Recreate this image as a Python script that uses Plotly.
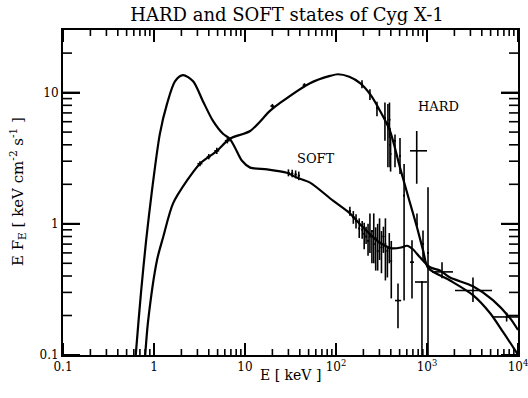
import numpy as np
import plotly.graph_objects as go

# ---- model curves (E in keV, E*F_E in keV cm^-2 s^-1) ----
soft_model_E = [0.62, 0.63, 0.72, 0.82, 0.95, 1.16, 1.39, 1.70, 2.08, 2.69, 3.45, 4.45,
                5.73, 6.8, 7.77, 9.27, 11.4, 17.5, 28.8, 37.0, 51.8, 92.7, 142, 198,
                300, 412, 520, 602, 700, 837, 1080, 1390, 1790, 3200, 5300, 8170, 10000]
soft_model_F = [0.085, 0.1, 0.3, 0.75, 1.79, 4.85, 8.2, 12.2, 13.6, 12.2, 8.6, 6.08,
                4.85, 4.45, 3.8, 3.02, 2.68, 2.6, 2.45, 2.25, 2.06, 1.50, 1.20, 0.94,
                0.72, 0.65, 0.66, 0.68, 0.64, 0.555, 0.466, 0.44, 0.39, 0.334, 0.262, 0.191, 0.155]

hard_model_E = [0.79, 0.80, 0.86, 1.08, 1.26, 1.62, 2.3, 3.2, 4.92, 6.8, 11.4, 18.8,
                24.3, 51.8, 86, 105, 140, 184, 240, 305, 392, 505, 640, 776, 904, 1030,
                1790, 3200, 4920, 6840, 9270, 10000]
hard_model_F = [0.09, 0.1, 0.18, 0.53, 0.79, 1.43, 2.13, 2.87, 3.6, 4.45, 5.1, 7.25,
                8.34, 11.8, 13.4, 13.8, 13.2, 11.8, 9.6, 7.25, 5.1, 2.68, 1.5, 0.94, 0.63, 0.46,
                0.37, 0.286, 0.209, 0.15, 0.109, 0.1]

# ---- measured spectra: centre, lower and upper bounds ----
soft_E    = [30, 33, 36, 39, 142, 155, 166, 180, 194, 204, 214, 225, 236, 248, 260, 273,
             287, 301, 316, 332, 349, 367, 385, 405, 480, 684, 880, 1462, 3200, 7500]
soft_Elo  = [29, 32, 35, 38, 138, 151, 162, 176, 190, 200, 210, 220, 231, 243, 255, 268,
             281, 295, 310, 326, 343, 360, 378, 398, 445, 650, 738, 1135, 2030, 5180]
soft_Ehi  = [31, 34, 37, 40, 146, 159, 170, 184, 198, 208, 218, 230, 241, 253, 265, 278,
             293, 307, 322, 338, 355, 374, 392, 412, 520, 720, 1000, 1930, 5180, 10000]
soft_F    = [2.45, 2.42, 2.38, 2.33, 1.25, 1.12, 1.05, 0.92, 0.90, 0.84, 0.80, 0.74, 0.80,
             0.88, 0.70, 0.78, 0.62, 0.72, 0.66, 0.80, 0.70, 0.62, 0.65, 0.52, 0.26, 0.51,
             0.36, 0.43, 0.31, 0.195]
soft_Flo  = [2.30, 2.26, 2.22, 2.15, 1.15, 1.00, 0.92, 0.78, 0.77, 0.64, 0.70, 0.57, 0.60,
             0.50, 0.50, 0.44, 0.44, 0.53, 0.42, 0.60, 0.37, 0.39, 0.50, 0.27, 0.16, 0.27,
             0.01, 0.385, 0.253, 0.18]
soft_Fhi  = [2.60, 2.58, 2.55, 2.50, 1.35, 1.25, 1.18, 1.10, 1.05, 1.02, 0.95, 1.00, 1.20,
             0.89, 1.20, 0.94, 1.00, 1.10, 0.88, 0.95, 1.10, 0.66, 0.85, 0.74, 0.35, 0.75,
             0.36, 0.51, 0.39, 0.21]

hard_E    = [3.2, 4.0, 4.9, 6.4, 20, 45, 193, 236, 282, 345, 372, 387, 392, 398, 445, 505,
             560, 776, 771, 904, 1026]
hard_Elo  = [3.0, 3.8, 4.6, 6.0, 19, 43, 188, 230, 275, 337, 364, 380, 386, 392, 435, 494,
             548, 760, 650, 880, 1000]
hard_Ehi  = [3.4, 4.2, 5.2, 6.8, 21, 47, 198, 242, 289, 353, 380, 394, 398, 404, 455, 516,
             572, 792, 1000, 928, 1052]
hard_F    = [2.87, 3.25, 3.6, 4.3, 7.9, 11.4, 11.6, 9.7, 7.6, 6.4, 5.8, 6.2, 4.0, 3.4, 4.3,
             3.3, 1.64, 1.0, 3.6, 0.70, 0.60]
hard_Flo  = [2.75, 3.10, 3.4, 4.1, 7.6, 11.0, 10.8, 8.8, 6.6, 4.3, 2.7, 4.5, 2.7, 2.5, 2.7,
             2.4, 0.26, 0.94, 2.02, 0.53, 0.01]
hard_Fhi  = [3.00, 3.40, 3.8, 4.5, 8.2, 11.8, 12.4, 10.6, 8.5, 8.4, 8.2, 8.4, 5.4, 4.5, 4.8,
             4.5, 2.85, 1.2, 5.1, 0.89, 1.9]

x_tickvals = [0.1, 1, 10, 100, 1000, 10000]
x_ticktext = ["0.1", "1", "10", "10<sup>2</sup>", "10<sup>3</sup>", "10<sup>4</sup>"]
y_tickvals = [0.1, 1, 10]
y_ticktext = ["0.1", "1", "10"]

FONT = "DejaVu Serif"
INK = "black"

X_RANGE = [-1.0, 4.0]
Y_RANGE = [-1.0, float(np.log10(30))]
MARGIN = dict(l=63, r=10, t=30, b=43)
W, H = 528, 398
PLOT_W = W - MARGIN["l"] - MARGIN["r"]
PLOT_H = H - MARGIN["t"] - MARGIN["b"]

X_MAJOR_LEN, X_MINOR_LEN = 12, 6
Y_MAJOR_LEN, Y_MINOR_LEN = 17, 9


def err_trace(E, Elo, Ehi, F, Flo, Fhi):
    E = np.array(E, float); F = np.array(F, float)
    return go.Scatter(
        x=E, y=F, mode="markers",
        marker=dict(size=2, color=INK),
        error_x=dict(type="data", symmetric=False,
                     array=np.array(Ehi) - E, arrayminus=E - np.array(Elo),
                     color=INK, thickness=1.6, width=0),
        error_y=dict(type="data", symmetric=False,
                     array=np.array(Fhi) - F, arrayminus=F - np.array(Flo),
                     color=INK, thickness=1.6, width=0),
        showlegend=False, hoverinfo="skip",
    )


def log_tick_exponents(lo, hi):
    """log10 positions of decade (major) and 2..9 (minor) ticks inside [lo, hi]."""
    major, minor = [], []
    for e in range(int(np.floor(lo)), int(np.ceil(hi)) + 1):
        if lo - 1e-9 <= e <= hi + 1e-9:
            major.append(float(e))
        for m in range(2, 10):
            v = e + float(np.log10(m))
            if lo < v < hi:
                minor.append(v)
    return major, minor


def tick_trace(along_x, exps, length_px, width):
    """Inward tick marks on both opposite sides of the frame, as one line trace."""
    xs, ys = [], []
    if along_x:
        d = length_px / PLOT_H * (Y_RANGE[1] - Y_RANGE[0])
        for v in exps:
            for a, b in ((Y_RANGE[0], Y_RANGE[0] + d), (Y_RANGE[1], Y_RANGE[1] - d)):
                xs += [10 ** v, 10 ** v, None]
                ys += [10 ** a, 10 ** b, None]
    else:
        d = length_px / PLOT_W * (X_RANGE[1] - X_RANGE[0])
        for v in exps:
            for a, b in ((X_RANGE[0], X_RANGE[0] + d), (X_RANGE[1], X_RANGE[1] - d)):
                xs += [10 ** a, 10 ** b, None]
                ys += [10 ** v, 10 ** v, None]
    return go.Scatter(x=xs, y=ys, mode="lines", line=dict(color=INK, width=width),
                      connectgaps=False, showlegend=False, hoverinfo="skip")


fig = go.Figure()
fig.add_trace(go.Scatter(x=soft_model_E, y=soft_model_F, mode="lines",
                         line=dict(color=INK, width=2.2, shape="spline", smoothing=0.8),
                         showlegend=False, name="SOFT"))
fig.add_trace(go.Scatter(x=hard_model_E, y=hard_model_F, mode="lines",
                         line=dict(color=INK, width=2.2, shape="spline", smoothing=0.8),
                         showlegend=False, name="HARD"))
fig.add_trace(err_trace(soft_E, soft_Elo, soft_Ehi, soft_F, soft_Flo, soft_Fhi))
fig.add_trace(err_trace(hard_E, hard_Elo, hard_Ehi, hard_F, hard_Flo, hard_Fhi))

xmaj, xmin = log_tick_exponents(*X_RANGE)
ymaj, ymin = log_tick_exponents(*Y_RANGE)
fig.add_trace(tick_trace(True, xmaj, X_MAJOR_LEN, 2))
fig.add_trace(tick_trace(True, xmin, X_MINOR_LEN, 1.6))
fig.add_trace(tick_trace(False, ymaj, Y_MAJOR_LEN, 2))
fig.add_trace(tick_trace(False, ymin, Y_MINOR_LEN, 1.6))

axis_common = dict(
    type="log", showline=True, linecolor=INK, linewidth=2, mirror="allticks",
    ticks="inside", tickcolor=INK, tickwidth=2, showgrid=False, zeroline=False,
    tickfont=dict(family=FONT, size=12, color=INK), automargin=False,
    tickmode="array", ticklabeloverflow="allow",
)

fig.update_xaxes(**axis_common, range=X_RANGE, tickvals=x_tickvals, ticktext=x_ticktext,
                 ticklen=X_MAJOR_LEN)
fig.update_yaxes(**axis_common, range=Y_RANGE, tickvals=y_tickvals, ticktext=y_ticktext,
                 ticklen=Y_MAJOR_LEN)

fig.update_layout(
    template="none",
    width=W, height=H,
    margin=dict(**MARGIN, autoexpand=False),
    paper_bgcolor="white", plot_bgcolor="white",
    title=dict(text="HARD and SOFT states of Cyg X-1", xref="container", x=0.5436,
               xanchor="center", yref="container", y=0.962, yanchor="middle",
               font=dict(family=FONT, size=18, color=INK)),
    annotations=[
        dict(text="E [ keV ]", xref="paper", yref="paper", x=0.499, y=-0.0615,
             xanchor="center", yanchor="middle", showarrow=False,
             font=dict(family=FONT, size=14, color=INK)),
        dict(text="E F<sub>E</sub> [ keV cm<sup>-2</sup> s<sup>-1</sup> ]",
             xref="paper", yref="paper", x=-0.101, y=0.5015, textangle=-90,
             xanchor="center", yanchor="middle", showarrow=False,
             font=dict(family=FONT, size=15, color=INK)),
        dict(text="HARD", xref="x", yref="y", x=3.121, y=0.891, showarrow=False,
             xanchor="center", yanchor="middle",
             font=dict(family=FONT, size=13, color=INK)),
        dict(text="SOFT", xref="x", yref="y", x=1.780, y=0.496, showarrow=False,
             xanchor="center", yanchor="middle",
             font=dict(family=FONT, size=13, color=INK)),
    ],
)

fig.write_html("out.html")
